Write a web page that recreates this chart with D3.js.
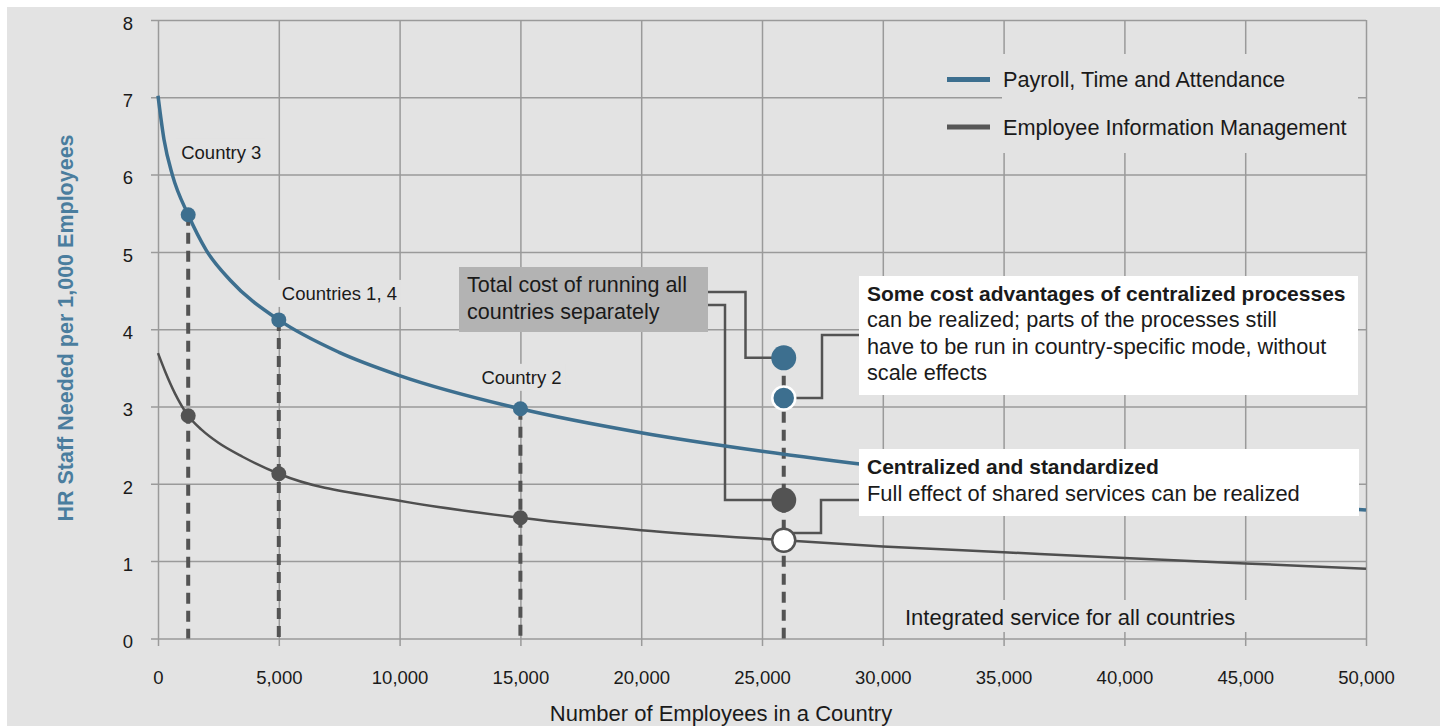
<!DOCTYPE html>
<html>
<head>
<meta charset="utf-8">
<script src="https://cdn.jsdelivr.net/npm/d3@7"></script>
<style>
  body { margin: 0; background: #fff; }
  text { font-family: "Liberation Sans", Arial, sans-serif; fill: #1a1a1a; }
</style>
</head>
<body>
<div id="chart"></div>
<script>
// values
const xTicks = [0, 5000, 10000, 15000, 20000, 25000, 30000, 35000, 40000, 45000, 50000];
const yTicks = [0, 1, 2, 3, 4, 5, 6, 7, 8];

const seriesNames = ["Payroll, Time and Attendance", "Employee Information Management"];

const payrollCurve = [
  [0, 7.02], [250, 6.45], [600, 5.99], [1250, 5.48], [2000, 5.02], [3000, 4.63],
  [5000, 4.12], [7500, 3.7], [10000, 3.4], [15000, 2.97], [20000, 2.66],
  [25000, 2.42], [30000, 2.22], [35000, 2.05], [40000, 1.91], [45000, 1.78], [50000, 1.66]
];
const eimCurve = [
  [0, 3.69], [300, 3.45], [700, 3.17], [1250, 2.88], [1800, 2.7], [2500, 2.53],
  [3500, 2.35], [5000, 2.13], [10000, 1.78], [15000, 1.56], [20000, 1.4],
  [25900, 1.27], [30000, 1.19], [35000, 1.115], [40000, 1.04], [45000, 0.97], [50000, 0.9]
];

const countryLabels = ["Country 3", "Countries 1, 4", "Country 2"];
const countryX = [1250, 5000, 15000];
const countryPayroll = [5.48, 4.12, 2.97];
const countryEim = [2.88, 2.13, 1.56];

const integratedX = 25900;
const payrollSeparate = 3.63;
const payrollPartial = 3.11;
const eimSeparate = 1.79;
const eimCentral = 1.27;

const blue = "#3d6f8f";
const dark = "#535353";
const grid = "#9a9a9a";
const bg = "#e3e3e3";

const W = 1440, H = 726;
const svg = d3.select("#chart").append("svg").attr("width", W).attr("height", H);

svg.append("rect").attr("x", 7).attr("y", 7).attr("width", W - 7).attr("height", H - 7).attr("fill", bg);

const x = d3.scaleLinear().domain([0, 50000]).range([158, 1366]);
const y = d3.scaleLinear().domain([0, 8]).range([638.4, 20]);

// grid + axes
const yAxis = svg.append("g")
  .attr("transform", `translate(${x(50000)},0)`)
  .call(d3.axisLeft(y).tickValues(yTicks).tickSize(x(50000) - 151).tickPadding(18));
const xAxis = svg.append("g")
  .attr("transform", `translate(0,${y(8)})`)
  .call(d3.axisBottom(x).tickValues(xTicks).tickFormat(d3.format(",")).tickSize(646 - y(8)).tickPadding(25));

[xAxis, yAxis].forEach(a => {
  a.select(".domain").remove();
  a.selectAll("line").attr("stroke", grid).attr("stroke-width", 1.5);
  a.selectAll("text").attr("font-size", 18.5).attr("fill", "#1a1a1a")
    .attr("font-family", "Liberation Sans, Arial, sans-serif");
});
yAxis.selectAll("text").attr("dy", "0.5em");

// axis titles
svg.append("text")
  .attr("x", 721).attr("y", 721)
  .attr("text-anchor", "middle").attr("font-size", 22)
  .text("Number of Employees in a Country");
svg.append("text")
  .attr("transform", "translate(73,328) rotate(-90)")
  .attr("text-anchor", "middle").attr("font-size", 21.5).attr("font-weight", "bold")
  .style("fill", "#4a7d9e")
  .text("HR Staff Needed per 1,000 Employees");

// backgrounds that hide the grid behind some texts
const legendG = svg.append("g");
legendG.append("rect").attr("x", 1002).attr("y", 54).attr("width", 356).attr("height", 99).attr("fill", bg);
svg.append("rect").attr("x", 895).attr("y", 600).attr("width", 352).attr("height", 32).attr("fill", bg);

const labelG = svg.append("g");
const labelOffsets = [[-7, -56], [3, -20], [-39, -25]];
countryLabels.forEach((name, i) => {
  const lx = x(countryX[i]) + labelOffsets[i][0];
  const ly = y(countryPayroll[i]) + labelOffsets[i][1];
  const t = labelG.append("text").attr("x", lx).attr("y", ly).attr("font-size", 18.5).text(name);
  const bb = t.node().getBBox();
  labelG.insert("rect", "text")
    .attr("x", bb.x - 6).attr("y", bb.y - 3).attr("width", bb.width + 10).attr("height", bb.height + 6)
    .attr("fill", bg);
});

// dashed drops
const drops = [...countryX.map((cx, i) => [cx, countryPayroll[i]]), [integratedX, payrollSeparate]];
svg.append("g").selectAll("line").data(drops).join("line")
  .attr("x1", d => x(d[0])).attr("x2", d => x(d[0]))
  .attr("y1", d => y(d[1])).attr("y2", y(0))
  .attr("stroke", dark).attr("stroke-width", 4).attr("stroke-dasharray", "11,7");

// connectors
const conn = svg.append("g").attr("fill", "none").attr("stroke", dark).attr("stroke-width", 2.5);
const ix = x(integratedX);
conn.append("path").attr("d", `M708,292 H745.5 V${y(payrollSeparate)} H${ix}`);
conn.append("path").attr("d", `M708,305 H725 V${y(eimSeparate)} H${ix}`);
conn.append("path").attr("d", `M${ix},${y(payrollPartial)} H822 V335 H860`);
conn.append("path").attr("d", `M${ix},533 H821 V500 H860`);

// curves
const line = d3.line().x(d => x(d[0])).y(d => y(d[1])).curve(d3.curveMonotoneX);
svg.append("path").datum(eimCurve).attr("d", line)
  .attr("fill", "none").attr("stroke", "#4f4f4f").attr("stroke-width", 2.5);
svg.append("path").datum(payrollCurve).attr("d", line)
  .attr("fill", "none").attr("stroke", blue).attr("stroke-width", 3.5);

// total cost box
svg.append("rect").attr("x", 459).attr("y", 267).attr("width", 249).attr("height", 65).attr("fill", "#b3b3b3");
svg.append("text").attr("x", 467).attr("y", 292).attr("font-size", 21.5)
  .selectAll("tspan").data(["Total cost of running all", "countries separately"]).join("tspan")
  .attr("x", 467).attr("dy", (d, i) => i ? 27 : 0).text(d => d);

// white annotation boxes
svg.append("rect").attr("x", 859).attr("y", 276).attr("width", 499).attr("height", 119).attr("fill", "#fff");
svg.append("text").attr("x", 867).attr("y", 301).attr("font-size", 21).attr("font-weight", "bold")
  .text("Some cost advantages of centralized processes");
svg.append("text").attr("x", 867).attr("y", 327).attr("font-size", 21.7)
  .selectAll("tspan").data(["can be realized; parts of the processes still",
    "have to be run in country-specific mode, without", "scale effects"]).join("tspan")
  .attr("x", 867).attr("dy", (d, i) => i ? 26.7 : 0).text(d => d);

svg.append("rect").attr("x", 859).attr("y", 449).attr("width", 500).attr("height", 67).attr("fill", "#fff");
svg.append("text").attr("x", 867).attr("y", 474).attr("font-size", 21).attr("font-weight", "bold")
  .text("Centralized and standardized");
svg.append("text").attr("x", 867).attr("y", 501).attr("font-size", 21.9)
  .text("Full effect of shared services can be realized");

svg.append("text").attr("x", 905).attr("y", 625).attr("font-size", 22)
  .text("Integrated service for all countries");

// markers
const mk = svg.append("g");
mk.selectAll(".pm").data(countryX).join("circle")
  .attr("cx", d => x(d)).attr("cy", (d, i) => y(countryPayroll[i])).attr("r", 7.5).attr("fill", blue);
mk.selectAll(".em").data(countryX).join("circle")
  .attr("cx", d => x(d)).attr("cy", (d, i) => y(countryEim[i])).attr("r", 7.5).attr("fill", dark);

mk.append("circle").attr("cx", ix).attr("cy", y(payrollSeparate)).attr("r", 12.5).attr("fill", blue);
mk.append("circle").attr("cx", ix).attr("cy", y(payrollPartial)).attr("r", 11.5)
  .attr("fill", blue).attr("stroke", "#fff").attr("stroke-width", 2.5);
mk.append("circle").attr("cx", ix).attr("cy", y(eimSeparate)).attr("r", 12.5).attr("fill", dark);
mk.append("circle").attr("cx", ix).attr("cy", y(eimCentral)).attr("r", 11.5)
  .attr("fill", "#fff").attr("stroke", dark).attr("stroke-width", 2.5);

// legend
const legendColors = [blue, "#575757"];
seriesNames.forEach((name, i) => {
  const ly = 79.5 + i * 47.5;
  legendG.append("line").attr("x1", 947).attr("x2", 990).attr("y1", ly).attr("y2", ly)
    .attr("stroke", legendColors[i]).attr("stroke-width", 5);
  legendG.append("text").attr("x", 1003).attr("y", ly + 7.5).attr("font-size", 21.7).text(name);
});
</script>
</body>
</html>
